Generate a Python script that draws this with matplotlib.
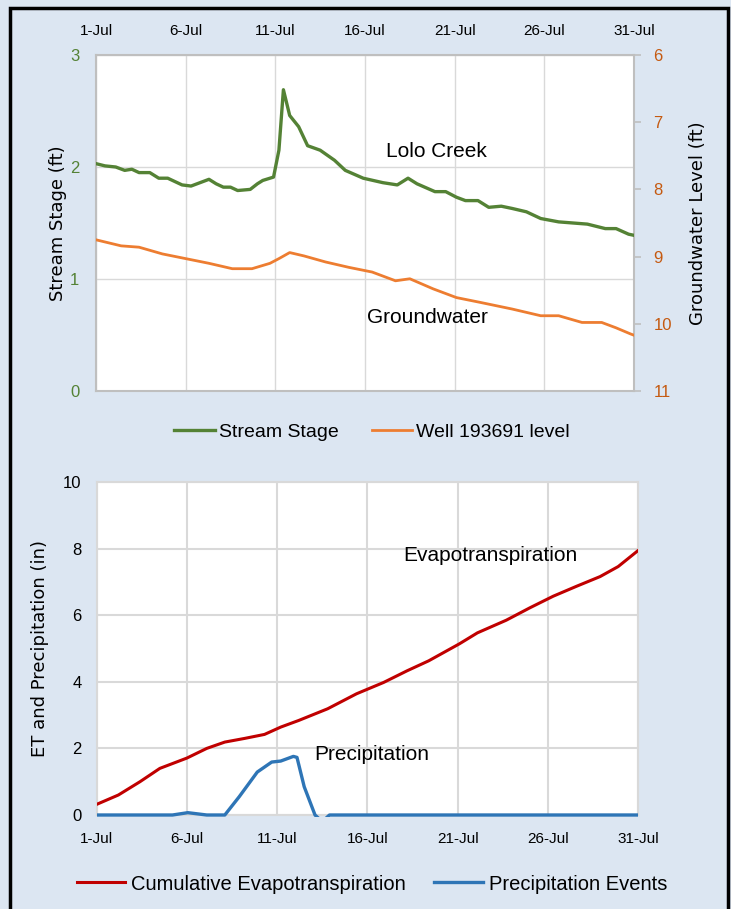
import matplotlib
matplotlib.use("Agg")
import matplotlib.pyplot as plt
from matplotlib.patches import Rectangle

# days after 1-Jul (0 = 1-Jul, 30 = 31-Jul)
stage_day = [0.0, 0.5, 1.1, 1.6, 2.0, 2.4, 3.0, 3.5, 4.0, 4.8, 5.3, 5.8, 6.3,
             6.7, 7.1, 7.5, 7.9, 8.6, 9.0, 9.3, 9.9,
             10.2, 10.45, 10.8, 11.3, 11.8, 12.5, 13.3, 13.9, 14.9, 16.0,
             16.8, 17.4, 17.9, 18.9, 19.5, 20.1, 20.6, 21.3, 21.9, 22.6, 23.2,
             24.0, 24.8, 25.8, 26.6, 27.4, 28.4, 29.0, 29.7, 30.0]
stage_ft = [2.03, 2.01, 2.00, 1.97, 1.98, 1.95, 1.95, 1.90, 1.90, 1.84, 1.83,
            1.86, 1.89, 1.85, 1.82, 1.82, 1.79, 1.80, 1.85, 1.88,
            1.91, 2.15, 2.69, 2.46, 2.36, 2.19, 2.15, 2.06, 1.97, 1.90, 1.86,
            1.84, 1.90, 1.85, 1.78, 1.78, 1.73, 1.70, 1.70, 1.64, 1.65, 1.63,
            1.60, 1.54, 1.51, 1.50, 1.49, 1.45, 1.45, 1.40, 1.39]

well_day = [0.0, 1.4, 2.4, 3.7, 5.0, 6.3, 7.6, 8.7, 9.7, 10.2, 10.8, 11.6,
            12.8, 14.1, 15.4, 16.7, 17.5, 18.8, 20.1, 21.4, 23.2, 24.8,
            25.8, 27.1, 28.2, 29.0, 29.8, 30.0]
well_ft = [8.75, 8.84, 8.86, 8.96, 9.03, 9.10, 9.18, 9.18, 9.10, 9.03, 8.94,
           8.99, 9.08, 9.16, 9.23, 9.36, 9.33, 9.48, 9.61, 9.68, 9.78, 9.88,
           9.88, 9.98, 9.98, 10.06, 10.15, 10.17]

et_day = [0.0, 1.2, 2.4, 3.5, 5.0, 6.1, 7.1, 8.2, 9.3, 10.2, 11.2, 12.8,
          14.4, 15.9, 17.2, 18.4, 20.1, 21.1, 22.7, 24.0, 25.3, 26.6,
          27.9, 28.9, 30.0]
et_in = [0.32, 0.60, 1.00, 1.40, 1.71, 2.00, 2.19, 2.30, 2.42, 2.64, 2.84,
         3.19, 3.64, 3.98, 4.33, 4.63, 5.14, 5.47, 5.85, 6.22, 6.57, 6.87,
         7.16, 7.46, 7.94]

precip_day = [0.0, 4.2, 5.05, 6.1, 7.1, 7.9, 8.9, 9.7, 10.2, 10.9, 11.1,
              11.5, 12.1, 12.5, 12.9, 30.0]
precip_in = [0.0, 0.0, 0.07, 0.0, 0.0, 0.55, 1.29, 1.59, 1.62, 1.76, 1.73,
             0.85, 0.0, -0.2, 0.0, 0.0]

tick_days = [0, 5, 10, 15, 20, 25, 30]
tick_labels = ["1-Jul", "6-Jul", "11-Jul", "16-Jul", "21-Jul", "26-Jul", "31-Jul"]

BG = "#DCE6F2"
GRID = "#D9D9D9"
SPINE = "#BFBFBF"

plt.rcParams["font.family"] = ["Liberation Sans", "DejaVu Sans"]

fig = plt.figure(figsize=(7.31, 9.09), dpi=100, facecolor=BG)

W, H = 731.0, 909.0


def px_axes(left, top, right, bottom):
    return fig.add_axes([left / W, 1 - bottom / H, (right - left) / W, (bottom - top) / H])


# ---- top chart: stream stage + groundwater
ax1 = px_axes(96, 55, 634, 391)
ax1.set_facecolor("white")
ax1.plot(stage_day, stage_ft, color="#548235", lw=2.4, label="Stream Stage", zorder=3)
ax1.set_xlim(0, 30)
ax1.set_ylim(0, 3)
ax1.set_yticks([0, 1, 2, 3])
ax1.set_xticks(tick_days)
ax1.set_xticklabels(tick_labels)
ax1.xaxis.tick_top()
ax1.tick_params(axis="x", length=0, pad=12, labelsize=11, colors="black")
ax1.tick_params(axis="y", length=0, pad=12, labelsize=12, labelcolor="#548235")
ax1.grid(True, color=GRID, lw=1)
ax1.set_axisbelow(True)
for s in ax1.spines.values():
    s.set_color(SPINE)
    s.set_linewidth(1.5)
ax1.set_ylabel("Stream Stage (ft)", family="DejaVu Sans", fontsize=13, labelpad=2)

ax1r = ax1.twinx()
ax1r.plot(well_day, well_ft, color="#ED7D31", lw=2.0, label="Well 193691 level", zorder=3)
ax1r.set_ylim(11, 6)
ax1r.set_yticks([6, 7, 8, 9, 10, 11])
ax1r.tick_params(axis="y", length=5, width=1.2, color=SPINE, pad=9, labelsize=12,
                 labelcolor="#C55A11")
for s in ax1r.spines.values():
    s.set_visible(False)
ax1r.set_ylabel("Groundwater Level (ft)", family="DejaVu Sans", fontsize=13, labelpad=12)

ax1.text(19.0, 2.14, "Lolo Creek", fontsize=15, ha="center", va="center")
ax1r.text(18.5, 9.91, "Groundwater", fontsize=15, ha="center", va="center")

h1, l1 = ax1.get_legend_handles_labels()
h2, l2 = ax1r.get_legend_handles_labels()
fig.legend(h1 + h2, l1 + l2, loc="center", bbox_to_anchor=(372 / W, 1 - 432 / H), ncol=2,
           frameon=False, fontsize=14, handlelength=2.1, columnspacing=1.7, handletextpad=0.2)

# ---- bottom chart: ET and precipitation
ax2 = px_axes(96.7, 482, 638, 815)
ax2.set_facecolor("white")
ax2.plot(et_day, et_in, color="#C00000", lw=2.2, label="Cumulative Evapotranspiration", zorder=3)
pl, = ax2.plot(precip_day, precip_in, color="#2E75B6", lw=2.4, label="Precipitation Events",
               zorder=4)
clip = Rectangle((0, -0.006), 1, 1.02, transform=ax2.transAxes, visible=False)
ax2.add_patch(clip)
pl.set_clip_path(clip)
ax2.set_xlim(0, 30)
ax2.set_ylim(0, 10)
ax2.set_xticks(tick_days)
ax2.set_xticklabels(tick_labels)
ax2.set_yticks([0, 2, 4, 6, 8, 10])
ax2.tick_params(axis="x", length=0, pad=12, labelsize=11, colors="black")
ax2.tick_params(axis="y", length=0, pad=11, labelsize=12, colors="black")
ax2.grid(True, color=GRID, lw=1.5)
ax2.set_axisbelow(True)
for s in ax2.spines.values():
    s.set_color(GRID)
    s.set_linewidth(1.5)
ax2.set_ylabel("ET and Precipitation (in)", family="DejaVu Sans", fontsize=13, labelpad=10)

ax2.text(21.8, 7.78, "Evapotranspiration", fontsize=15, ha="center", va="center")
ax2.text(15.25, 1.83, "Precipitation", fontsize=15, ha="center", va="center")

fig.legend(*ax2.get_legend_handles_labels(), loc="center",
           bbox_to_anchor=(372 / W, 1 - 884 / H), ncol=2, frameon=False, fontsize=14.5,
           handlelength=2.4, columnspacing=1.4, handletextpad=0.3)

# outer black frame
fig.patches.append(Rectangle((10 / W, -0.01), 718 / W, 1 - 8 / H + 0.01,
                             transform=fig.transFigure, fill=False, ec="black", lw=2.5))

fig.savefig("out.png", dpi=100, facecolor=BG)
